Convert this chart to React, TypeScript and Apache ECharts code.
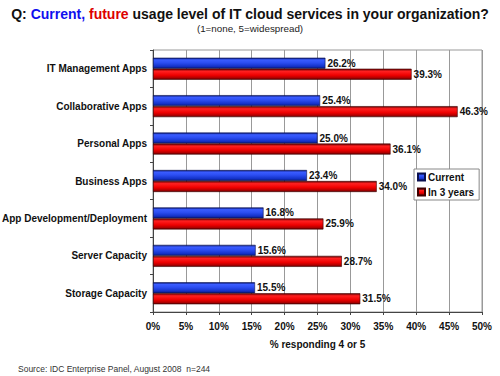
import React, { useEffect, useRef } from "react";
import * as echarts from "echarts";

const categories = [
  "IT Management Apps",
  "Collaborative Apps",
  "Personal Apps",
  "Business Apps",
  "App Development/Deployment",
  "Server Capacity",
  "Storage Capacity",
];
const currentValues = [26.2, 25.4, 25.0, 23.4, 16.8, 15.6, 15.5];
const futureValues = [39.3, 46.3, 36.1, 34.0, 25.9, 28.7, 31.5];
const seriesNames = ["Current", "In 3 years"];
const xTicks = { min: 0, max: 50, interval: 5 };

const FONT = "'Liberation Sans', Arial, sans-serif";

const blueGrad = new echarts.graphic.LinearGradient(0, 0, 0, 1, [
  { offset: 0, color: "#0a1a78" },
  { offset: 0.18, color: "#3a5cff" },
  { offset: 0.45, color: "#2c4ef2" },
  { offset: 0.8, color: "#1432c8" },
  { offset: 1, color: "#0a1a78" },
]);
const redGrad = new echarts.graphic.LinearGradient(0, 0, 0, 1, [
  { offset: 0, color: "#6a0000" },
  { offset: 0.22, color: "#ff2020" },
  { offset: 0.6, color: "#ee0000" },
  { offset: 0.85, color: "#b00000" },
  { offset: 1, color: "#600000" },
]);

export default function App() {
  const ref = useRef<HTMLDivElement>(null);
  useEffect(() => {
    if (!ref.current) return;
    const chart = echarts.init(ref.current, undefined, { renderer: "svg" });
    const labelCfg = {
      show: true,
      position: "right" as const,
      distance: 2,
      formatter: (p: any) => Number(p.value).toFixed(1) + "%",
      fontFamily: FONT,
      fontWeight: "bold" as const,
      fontSize: 10,
      color: "#111",
    };
    chart.setOption({
      animation: false,
      backgroundColor: "#fff",
      title: [
        {
          text:
            "{k|Q: }{b|Current, }{r|future}{k| usage level of IT cloud services in your organization?}",
          left: "center",
          top: 7,
          padding: 0,
          textStyle: {
            rich: {
              k: { fontFamily: FONT, fontWeight: "bold", fontSize: 14, color: "#111" },
              b: { fontFamily: FONT, fontWeight: "bold", fontSize: 14, color: "#1010ee" },
              r: { fontFamily: FONT, fontWeight: "bold", fontSize: 14, color: "#dd0000" },
            },
          },
        },
        {
          text: "(1=none, 5=widespread)",
          left: 250,
          textAlign: "center",
          top: 23,
          padding: 0,
          textStyle: { fontFamily: FONT, fontWeight: "normal", fontSize: 9.8, color: "#222" },
        },
        {
          text: "Source: IDC Enterprise Panel, August 2008  n=244",
          left: 18,
          top: 364,
          padding: 0,
          textStyle: { fontFamily: FONT, fontWeight: "normal", fontSize: 8.5, color: "#333" },
        },
      ],
      legend: {
        orient: "vertical",
        left: 414,
        top: 169,
        data: seriesNames,
        backgroundColor: "#fff",
        borderColor: "#888",
        borderWidth: 1,
        borderRadius: 0,
        padding: [3, 5, 3, 3],
        itemWidth: 7,
        itemHeight: 7,
        itemGap: 5,
        icon: "rect",
        textStyle: { fontFamily: FONT, fontWeight: "bold", fontSize: 10, color: "#111", padding: [0, 0, 0, -2] },
      },
      grid: {
        left: 153,
        right: 18,
        top: 50,
        bottom: 64,
        outerBoundsMode: "none",
        containLabel: false,
        show: true,
        borderColor: "#999",
        borderWidth: 1,
        backgroundColor: "transparent",
      },
      xAxis: {
        type: "value",
        min: xTicks.min,
        max: xTicks.max,
        interval: xTicks.interval,
        axisLine: { show: true, lineStyle: { color: "#444", width: 1 } },
        axisTick: { show: true, length: 3, lineStyle: { color: "#444" } },
        splitLine: { show: true, lineStyle: { color: "#999", width: 1 } },
        axisLabel: {
          formatter: "{value}%",
          fontFamily: FONT,
          fontWeight: "bold",
          fontSize: 10,
          color: "#111",
          margin: 9,
        },
        name: "% responding 4 or 5",
        nameLocation: "middle",
        nameGap: 27,
        nameTextStyle: { fontFamily: FONT, fontWeight: "bold", fontSize: 10, color: "#111" },
      },
      yAxis: {
        type: "category",
        inverse: true,
        data: categories,
        axisLine: { show: true, lineStyle: { color: "#444", width: 1 } },
        axisTick: { show: true, length: 3, lineStyle: { color: "#444" } },
        axisLabel: {
          fontFamily: FONT,
          fontWeight: "bold",
          fontSize: 10,
          color: "#111",
          margin: 6,
        },
      },
      series: [
        {
          name: seriesNames[0],
          type: "bar",
          data: currentValues,
          barWidth: 11,
          barGap: "0%",
          itemStyle: { color: blueGrad, borderColor: "#0a1050", borderWidth: 0.6 },
          label: labelCfg,
        },
        {
          name: seriesNames[1],
          type: "bar",
          data: futureValues,
          barWidth: 11,
          barGap: "0%",
          itemStyle: { color: redGrad, borderColor: "#400000", borderWidth: 0.6 },
          label: labelCfg,
        },
      ],
    });
    return () => chart.dispose();
  }, []);
  return (
    <div
      ref={ref}
      style={{ position: "fixed", left: 0, top: 0, width: 500, height: 376 }}
    />
  );
}
